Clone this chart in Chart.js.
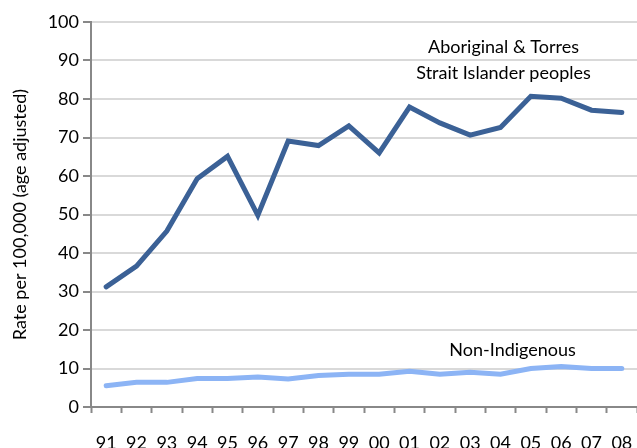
<!DOCTYPE html>
<html lang="en">
  <head>
    <meta charset="UTF-8" />
    <style>
      body {
        margin: 0;
        background: #fff;
      }
      #wrap {
        width: 637px;
        height: 448px;
      }
    </style>
    <script src="https://cdn.jsdelivr.net/npm/chart.js"></script>
  </head>
  <body>
    <div id="wrap"><canvas id="graph"></canvas></div>
    <script>
      const years = ["91", "92", "93", "94", "95", "96", "97", "98", "99",
        "00", "01", "02", "03", "04", "05", "06", "07", "08"];
      const aboriginal = [31.2, 36.6, 45.7, 59.3, 65.1, 49.8, 69.1, 67.9, 73.0,
        66.0, 77.9, 73.8, 70.6, 72.6, 80.7, 80.2, 77.1, 76.5];
      const nonIndigenous = [5.5, 6.4, 6.4, 7.4, 7.4, 7.8, 7.3, 8.2, 8.5,
        8.5, 9.3, 8.5, 9.0, 8.5, 10.0, 10.5, 10.0, 10.0];
      const yTicks = [0, 10, 20, 30, 40, 50, 60, 70, 80, 90, 100];

      const FONT = "Lato, 'Liberation Sans', sans-serif";

      // text labels placed on the data scales
      const notes = [
        { text: "Aboriginal & Torres", x: 13.1, y: 93.4 },
        { text: "Strait Islander peoples", x: 13.1, y: 86.6 },
        { text: "Non-Indigenous", x: 13.4, y: 14.8 },
      ];

      const notesPlugin = {
        id: "notes",
        afterDatasetsDraw(chart) {
          const ctx = chart.ctx;
          const xs = chart.scales.x, ys = chart.scales.y;
          ctx.save();
          ctx.font = "18px " + FONT;
          ctx.fillStyle = "#000";
          ctx.textAlign = "center";
          ctx.textBaseline = "middle";
          notes.forEach((n) => {
            ctx.fillText(n.text, xs.getPixelForValue(n.x), ys.getPixelForValue(n.y));
          });
          ctx.restore();
        },
      };

      new Chart(document.querySelector("#graph"), {
        type: "line",
        data: {
          labels: years,
          datasets: [
            {
              label: "Aboriginal & Torres Strait Islander peoples",
              data: aboriginal,
              borderColor: "#3b6196",
              borderWidth: 5,
              pointRadius: 0,
              tension: 0,
              borderCapStyle: "round",
            },
            {
              label: "Non-Indigenous",
              data: nonIndigenous,
              borderColor: "#8cb4f5",
              borderWidth: 5,
              pointRadius: 0,
              tension: 0,
              borderCapStyle: "round",
            },
          ],
        },
        options: {
          responsive: true,
          maintainAspectRatio: false,
          animation: false,
          layout: { padding: { top: 22, right: 0, left: 0, bottom: 0 } },
          plugins: {
            legend: { display: false },
            tooltip: { enabled: false },
          },
          scales: {
            x: {
              type: "category",
              offset: true,
              grid: {
                offset: true,
                drawOnChartArea: false,
                tickLength: 6,
                tickColor: "#888",
                tickWidth: 2,
              },
              border: { color: "#888", width: 2 },
              ticks: {
                color: "#000",
                font: { family: FONT, size: 18 },
                padding: 19,
                maxRotation: 0,
                autoSkip: false,
              },
              afterFit: (s) => {
                s.height = 41;
                s.paddingLeft = 0;
                s.paddingRight = 0;
              },
            },
            y: {
              min: 0,
              max: 100,
              afterBuildTicks: (s) => { s.ticks = yTicks.map((v) => ({ value: v })); },
              grid: {
                color: "#d9d9d9",
                lineWidth: 2,
                tickLength: 8,
                tickColor: "#888",
              },
              border: { color: "#888", width: 2 },
              ticks: {
                color: "#000",
                font: { family: FONT, size: 18 },
                padding: 4,
              },
              title: {
                display: true,
                text: "Rate per 100,000 (age adjusted)",
                color: "#000",
                font: { family: FONT, size: 18 },
                padding: { top: 9, bottom: 0 },
              },
              afterFit: (s) => { s.width = 91; },
            },
          },
        },
        plugins: [notesPlugin],
      });
    </script>
  </body>
</html>
